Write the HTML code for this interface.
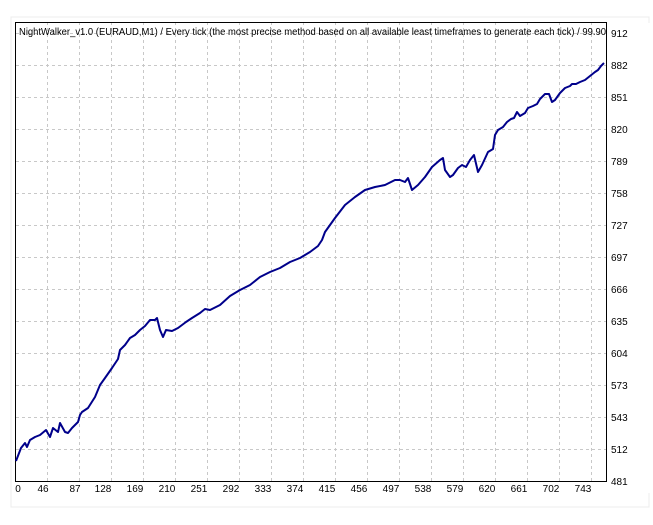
<!DOCTYPE html>
<html><head><meta charset="utf-8"><style>
html,body{margin:0;padding:0;background:#fff;}
svg{display:block;font-family:"Liberation Sans",sans-serif;}
</style></head><body>
<svg width="653" height="525" viewBox="0 0 653 525" xmlns="http://www.w3.org/2000/svg">
<rect x="11" y="17" width="638" height="490" fill="#fff" stroke="#ececec"/>
<g stroke="#c8c8c8" stroke-dasharray="3,3" stroke-width="1">
<line x1="47.5" y1="22" x2="47.5" y2="481"/><line x1="79.5" y1="22" x2="79.5" y2="481"/><line x1="111.5" y1="22" x2="111.5" y2="481"/><line x1="143.5" y1="22" x2="143.5" y2="481"/><line x1="175.5" y1="22" x2="175.5" y2="481"/><line x1="207.5" y1="22" x2="207.5" y2="481"/><line x1="239.5" y1="22" x2="239.5" y2="481"/><line x1="271.5" y1="22" x2="271.5" y2="481"/><line x1="303.5" y1="22" x2="303.5" y2="481"/><line x1="335.5" y1="22" x2="335.5" y2="481"/><line x1="367.5" y1="22" x2="367.5" y2="481"/><line x1="399.5" y1="22" x2="399.5" y2="481"/><line x1="431.5" y1="22" x2="431.5" y2="481"/><line x1="463.5" y1="22" x2="463.5" y2="481"/><line x1="495.5" y1="22" x2="495.5" y2="481"/><line x1="527.5" y1="22" x2="527.5" y2="481"/><line x1="559.5" y1="22" x2="559.5" y2="481"/><line x1="591.5" y1="22" x2="591.5" y2="481"/>
<line x1="16" y1="33.5" x2="606" y2="33.5"/><line x1="16" y1="65.5" x2="606" y2="65.5"/><line x1="16" y1="97.5" x2="606" y2="97.5"/><line x1="16" y1="129.5" x2="606" y2="129.5"/><line x1="16" y1="161.5" x2="606" y2="161.5"/><line x1="16" y1="193.5" x2="606" y2="193.5"/><line x1="16" y1="225.5" x2="606" y2="225.5"/><line x1="16" y1="257.5" x2="606" y2="257.5"/><line x1="16" y1="289.5" x2="606" y2="289.5"/><line x1="16" y1="321.5" x2="606" y2="321.5"/><line x1="16" y1="353.5" x2="606" y2="353.5"/><line x1="16" y1="385.5" x2="606" y2="385.5"/><line x1="16" y1="417.5" x2="606" y2="417.5"/><line x1="16" y1="449.5" x2="606" y2="449.5"/>
</g>
<rect x="15.5" y="22.5" width="591" height="459" fill="none" stroke="#000" stroke-width="1"/>
<polyline fill="none" stroke="#00008b" stroke-width="2" stroke-linejoin="round" points="16,461 21,448 25,443 27,447 30,440 35,437 40,435 46,430 50,437 53,428 58,432 60,423 65,432 68,433 72,428 78,422 80,415 82,412 88,408 95,397 100,385 105,378 112,368 118,359 120,350 125,345 130,338 135,335 140,330 145,326 150,320 155,320 157,318 160,330 163,337 166,330 172,331 178,328 186,322 192,318 200,313 205,309 210,310 220,305 230,296 240,290 250,285 260,277 270,272 280,268 290,262 300,258 305,255 310,252 318,246 322,240 325,232 335,218 345,205 355,197 365,190 375,187 385,185 395,180 400,180 405,182 408,178 412,190 418,185 425,177 432,167 440,160 443,158 445,170 450,177 453,175 458,168 462,165 466,167 470,160 474,155 478,172 482,165 488,152 493,149 495,135 498,130 503,127 507,122 511,119 514,118 517,112 520,116 525,113 528,108 533,106 537,104 540,99 545,94 549,94 552,102 555,100 560,93 565,88 570,86 572,84 576,84 580,82 585,80 590,76 595,72 598,70 601,66 604,63"/>
<text x="19" y="35" font-size="10" fill="#000" textLength="587" lengthAdjust="spacingAndGlyphs">NightWalker_v1.0 (EURAUD,M1) / Every tick (the most precise method based on all available least timeframes to generate each tick) / 99.90</text>
<rect x="607" y="23" width="46" height="470" fill="#fff"/>
<g font-size="10" fill="#000">
<text x="611" y="37">912</text><text x="611" y="69">882</text><text x="611" y="101">851</text><text x="611" y="133">820</text><text x="611" y="165">789</text><text x="611" y="197">758</text><text x="611" y="229">727</text><text x="611" y="261">697</text><text x="611" y="293">666</text><text x="611" y="325">635</text><text x="611" y="357">604</text><text x="611" y="389">573</text><text x="611" y="421">543</text><text x="611" y="453">512</text><text x="611" y="485">481</text>
</g>
<g font-size="10" fill="#000" text-anchor="middle">
<text x="18" y="492">0</text><text x="43" y="492">46</text><text x="75" y="492">87</text><text x="103" y="492">128</text><text x="135" y="492">169</text><text x="167" y="492">210</text><text x="199" y="492">251</text><text x="231" y="492">292</text><text x="263" y="492">333</text><text x="295" y="492">374</text><text x="327" y="492">415</text><text x="359" y="492">456</text><text x="391" y="492">497</text><text x="423" y="492">538</text><text x="455" y="492">579</text><text x="487" y="492">620</text><text x="519" y="492">661</text><text x="551" y="492">702</text><text x="583" y="492">743</text>
</g>
</svg>
</body></html>
